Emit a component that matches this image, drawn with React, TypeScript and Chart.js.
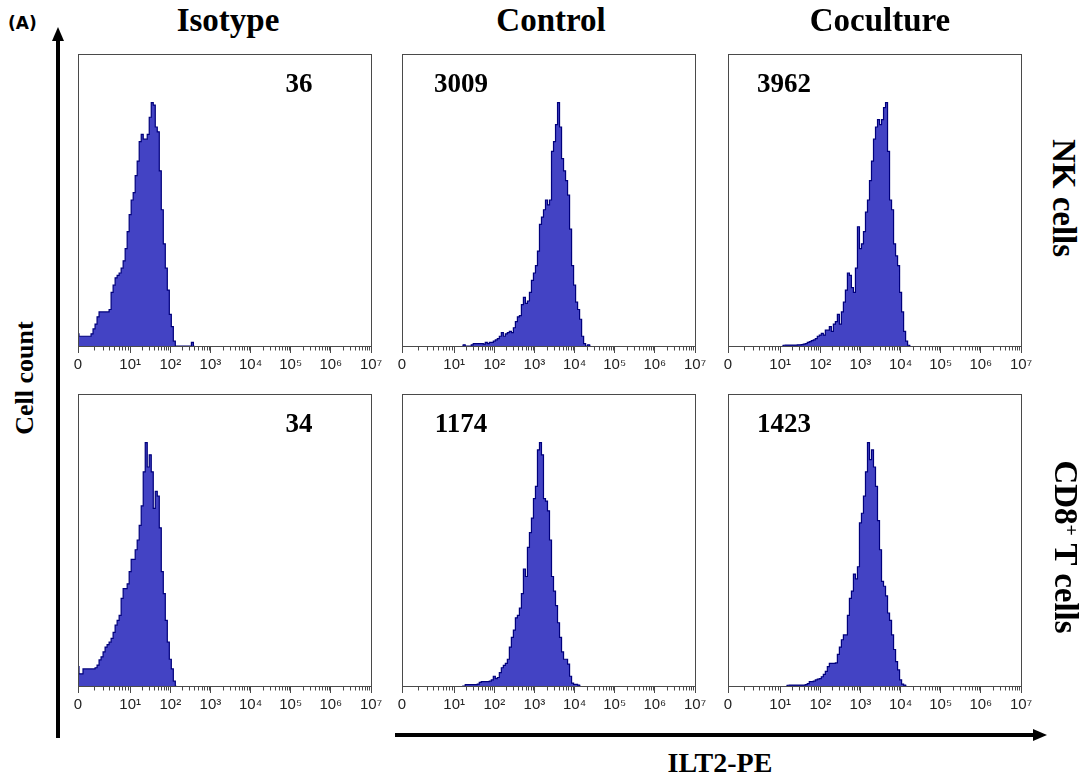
import React, { useEffect, useRef } from "react";
import { Chart, registerables } from "chart.js";

Chart.register(...registerables);

// ---- axis definition (display units: -0.3 = "0", k = 10^k) ----
const X_MIN = -0.3;
const X_MAX = 7;
const Y_MAX = 120;
const BIN = 0.05;
const MAJOR_TICKS = [-0.3, 1, 2, 3, 4, 5, 6, 7];
const TICK_LABELS = ["0", "10\u00B9", "10\u00B2", "10\u00B3", "10\u2074", "10\u2075", "10\u2076", "10\u2077"];
const MINOR_MULTIPLIERS = [2, 3, 4, 5, 6, 7, 8, 9];

// ---- labels ----
const COLUMN_TITLES = ["Isotype", "Control", "Coculture"];
const MFI_NK = ["36", "3009", "3962"];
const MFI_CD8 = ["34", "1174", "1423"];

// ---- histogram data (bin heights, BIN-wide bins starting at *_START) ----
const NK_ISOTYPE_START = -0.3;
const NK_ISOTYPE = [
  5, 4, 4, 4, 4, 4, 4, 5, 7, 9, 12, 14, 14, 14, 14, 14, 15, 22, 25, 28, 29, 30, 32, 35, 40,
  47, 54, 60, 63, 70, 76, 84, 87, 85, 85, 87, 94, 100, 99, 90, 88, 72, 56, 42, 32, 23, 13, 8,
  2, 0, 0, 0, 0, 0, 0, 0, 0, 1.5, 0,
];

const NK_CONTROL_START = 1.2;
const NK_CONTROL = [
  0, 0.5, 0, 0, 0, 0.5, 1, 1, 1, 1, 1, 0.8, 1.5, 1, 1.5, 1.5,
  2, 2.5, 3, 4, 5.5, 4, 5, 5.5, 6, 5.5, 7.5, 10, 12, 12.5, 17, 20, 17.5, 18.5, 22, 27,
  30, 33, 39, 50, 53, 56, 60, 58, 60, 80, 84, 91, 100, 90, 77, 72, 68, 62, 48, 33,
  25, 18, 15, 11, 4, 1, 0, 0.5, 0,
];

const NK_COCULTURE_START = 1.05;
const NK_COCULTURE = [
  0, 0.3, 0.4, 0.4, 0.4, 0.4, 0.4, 0.4, 0.5, 0.5, 0.6, 0.8, 1, 1.5, 1.8, 2.2, 2.5, 3, 4,
  4.5, 5.2, 4.5, 6.5, 6.5, 8, 6, 9, 10, 13, 9, 14, 18, 23, 30, 29, 24, 22, 32, 49,
  40, 42, 47, 55, 60, 68, 76, 85, 90, 93, 91, 93, 98, 100, 80, 60, 56, 42, 37, 33,
  22, 14, 6, 2, 0.3, 0,
];

const CD8_ISOTYPE_START = -0.3;
const CD8_ISOTYPE = [
  8, 5, 5, 7, 7, 7, 7, 7, 7, 7.5, 8.6, 10.7, 12, 14, 16, 17,
  18, 19.6, 22, 25, 27, 29, 36, 40, 40, 42, 47, 52, 52, 56, 60, 66, 74, 88, 100, 90,
  95, 88, 73, 80, 78, 65, 47, 38, 27, 18, 11, 7, 2, 0,
];

const CD8_CONTROL_START = 1.2;
const CD8_CONTROL = [
  0, 0, 0.6, 0.6, 0.6, 0.6, 0.6, 0.6, 0.8, 1.5, 1.8, 1.8, 1.8, 1.8, 2, 2.5,
  4, 3, 3.5, 5.5, 7.5, 8.5, 9.3, 11, 16, 20, 23, 28, 29, 32, 38, 48, 45, 57, 63, 69,
  77, 82, 97, 100, 95, 77, 76, 72, 60, 45, 39, 33, 26, 20, 14, 11, 11, 9, 4, 1.2,
  0.7, 0.7, 0.4, 0,
];

const CD8_COCULTURE_START = 1.15;
const CD8_COCULTURE = [
  0, 0.3, 0.4, 0.4, 0.4, 0.4, 0.4, 0.4, 0.4, 0.4, 0.6, 1, 1.8, 1.8, 2, 2.5, 2.8,
  3, 3.8, 4.8, 6, 8, 9.3, 9.3, 9.3, 9.5, 13, 16, 19, 21, 21, 29, 36, 39, 46, 44, 49,
  67, 71, 78, 88, 100, 93, 97, 90, 82, 68, 56, 43, 41, 37, 30, 27, 21, 15, 10, 6.6,
  2.5, 0.8, 0.4, 0,
];

// ---- styling / layout ----
const FILL = "#4343c4";
const EDGE = "#00007c";
const BOX_COLOR = "#4a4a4a";
const SERIF = '"Liberation Serif", "Times New Roman", serif';
const SANS = '"Liberation Sans", Arial, sans-serif';
const BOX_W = 293;
const BOX_H = 292;
const PAD_X = 22;
const PAD_TOP = 10;
const AXIS_H = 40;
const COL_LEFT = [78, 402, 728];
const ROW_TOP = [54, 394];

function minorTickValues(): number[] {
  const out: number[] = [];
  MINOR_MULTIPLIERS.forEach((m) => out.push(X_MIN + (1 - X_MIN) * Math.log10(m)));
  for (let d = 1; d < 7; d++) MINOR_MULTIPLIERS.forEach((m) => out.push(d + Math.log10(m)));
  return out;
}

const boxPlugin = {
  id: "facsBox",
  afterDraw(chart: any) {
    const { ctx, chartArea } = chart;
    const xs = chart.scales.x;
    ctx.save();
    ctx.strokeStyle = BOX_COLOR;
    ctx.lineWidth = 1;
    ctx.strokeRect(
      Math.round(chartArea.left) + 0.5,
      Math.round(chartArea.top) + 0.5,
      Math.round(chartArea.right - chartArea.left),
      Math.round(chartArea.bottom - chartArea.top)
    );
    ctx.beginPath();
    const b = Math.round(chartArea.bottom) + 0.5;
    minorTickValues().forEach((v) => {
      const px = Math.round(xs.getPixelForValue(v)) + 0.5;
      ctx.moveTo(px, b);
      ctx.lineTo(px, b + 4);
    });
    ctx.stroke();
    ctx.restore();
  },
};

function Histogram(props: { start: number; values: number[]; left: number; top: number }) {
  const ref = useRef<HTMLCanvasElement>(null);
  const w = BOX_W + PAD_X * 2;
  const h = PAD_TOP + BOX_H + AXIS_H;
  useEffect(() => {
    const points = props.values.map((v, i) => ({ x: props.start + i * BIN, y: v }));
    const chart = new Chart(ref.current as HTMLCanvasElement, {
      type: "line",
      data: {
        datasets: [
          {
            data: points,
            stepped: "middle",
            fill: "origin",
            backgroundColor: FILL,
            borderColor: EDGE,
            borderWidth: 1.2,
            pointRadius: 0,
          } as any,
        ],
      },
      options: {
        animation: false,
        responsive: false,
        events: [],
        layout: { padding: { left: PAD_X, right: PAD_X, top: PAD_TOP, bottom: 0 } },
        plugins: { legend: { display: false }, tooltip: { enabled: false } },
        scales: {
          x: {
            type: "linear",
            min: X_MIN,
            max: X_MAX,
            afterBuildTicks: (s: any) => {
              s.ticks = MAJOR_TICKS.map((v) => ({ value: v }));
            },
            afterFit: (s: any) => {
              s.height = AXIS_H;
              s.paddingLeft = 0;
              s.paddingRight = 0;
            },
            ticks: {
              autoSkip: false,
              maxRotation: 0,
              minRotation: 0,
              padding: 3,
              color: "#222",
              font: { family: SANS, size: 15 },
              callback: (_v: any, i: number) => TICK_LABELS[i],
            },
            grid: { drawOnChartArea: false, drawTicks: true, tickLength: 7, color: BOX_COLOR, lineWidth: 1 },
            border: { display: false },
          },
          y: { display: false, min: 0, max: Y_MAX },
        },
      } as any,
      plugins: [boxPlugin],
    });
    return () => chart.destroy();
  }, []);
  return (
    <canvas
      ref={ref}
      width={w}
      height={h}
      style={{ position: "absolute", left: props.left - PAD_X, top: props.top - PAD_TOP, width: w, height: h }}
    />
  );
}

const serifBold = (size: number): React.CSSProperties => ({
  position: "absolute",
  fontFamily: SERIF,
  fontWeight: "bold",
  fontSize: size,
  lineHeight: 1,
  whiteSpace: "nowrap",
  color: "#000",
});

export default function App() {
  const panels = [
    { start: NK_ISOTYPE_START, values: NK_ISOTYPE, c: 0, r: 0 },
    { start: NK_CONTROL_START, values: NK_CONTROL, c: 1, r: 0 },
    { start: NK_COCULTURE_START, values: NK_COCULTURE, c: 2, r: 0 },
    { start: CD8_ISOTYPE_START, values: CD8_ISOTYPE, c: 0, r: 1 },
    { start: CD8_CONTROL_START, values: CD8_CONTROL, c: 1, r: 1 },
    { start: CD8_COCULTURE_START, values: CD8_COCULTURE, c: 2, r: 1 },
  ];
  const titleX = [228, 551, 880];
  const mfiX = [299, 461, 784];
  const mfiBaseline = [93, 433];
  return (
    <div style={{ position: "absolute", left: 0, top: 0, width: 1089, height: 779, background: "#fff", overflow: "hidden" }}>
      {panels.map((p, i) => (
        <Histogram key={i} start={p.start} values={p.values} left={COL_LEFT[p.c]} top={ROW_TOP[p.r]} />
      ))}

      <div style={{ position: "absolute", left: 8, top: 15, fontFamily: '"DejaVu Sans", sans-serif', fontWeight: "bold", fontSize: 17, lineHeight: 1 }}>
        (A)
      </div>

      {COLUMN_TITLES.map((t, i) => (
        <div key={t} style={{ ...serifBold(33), left: titleX[i], top: 4, transform: "translateX(-50%)" }}>
          {t}
        </div>
      ))}

      {[MFI_NK, MFI_CD8].map((row, r) =>
        row.map((m, c) => (
          <div key={`${r}-${c}`} style={{ ...serifBold(27), left: mfiX[c], top: mfiBaseline[r] - 22.6, transform: "translateX(-50%)" }}>
            {m}
          </div>
        ))
      )}

      <div style={{ ...serifBold(26), left: 25, top: 378, transform: "translate(-50%, -50%) rotate(-90deg)" }}>Cell count</div>
      <div style={{ ...serifBold(33), left: 1063, top: 198, transform: "translate(-50%, -50%) rotate(90deg)" }}>NK cells</div>
      <div style={{ ...serifBold(33), left: 1065, top: 547, transform: "translate(-50%, -50%) rotate(90deg)" }}>
        CD8<span style={{ fontSize: "0.6em", verticalAlign: "0.55em" }}>+</span> T cells
      </div>
      <div style={{ ...serifBold(28), left: 720, top: 749, transform: "translateX(-50%)" }}>ILT2-PE</div>

      <svg width={1089} height={779} style={{ position: "absolute", left: 0, top: 0, pointerEvents: "none" }}>
        <line x1={58} y1={738} x2={58} y2={38} stroke="#000" strokeWidth={4} />
        <polygon points="58,27 52,41 64,41" fill="#000" />
        <line x1={395} y1={735} x2={1034} y2={735} stroke="#000" strokeWidth={4} />
        <polygon points="1047,735 1033,729 1033,741" fill="#000" />
      </svg>
    </div>
  );
}
